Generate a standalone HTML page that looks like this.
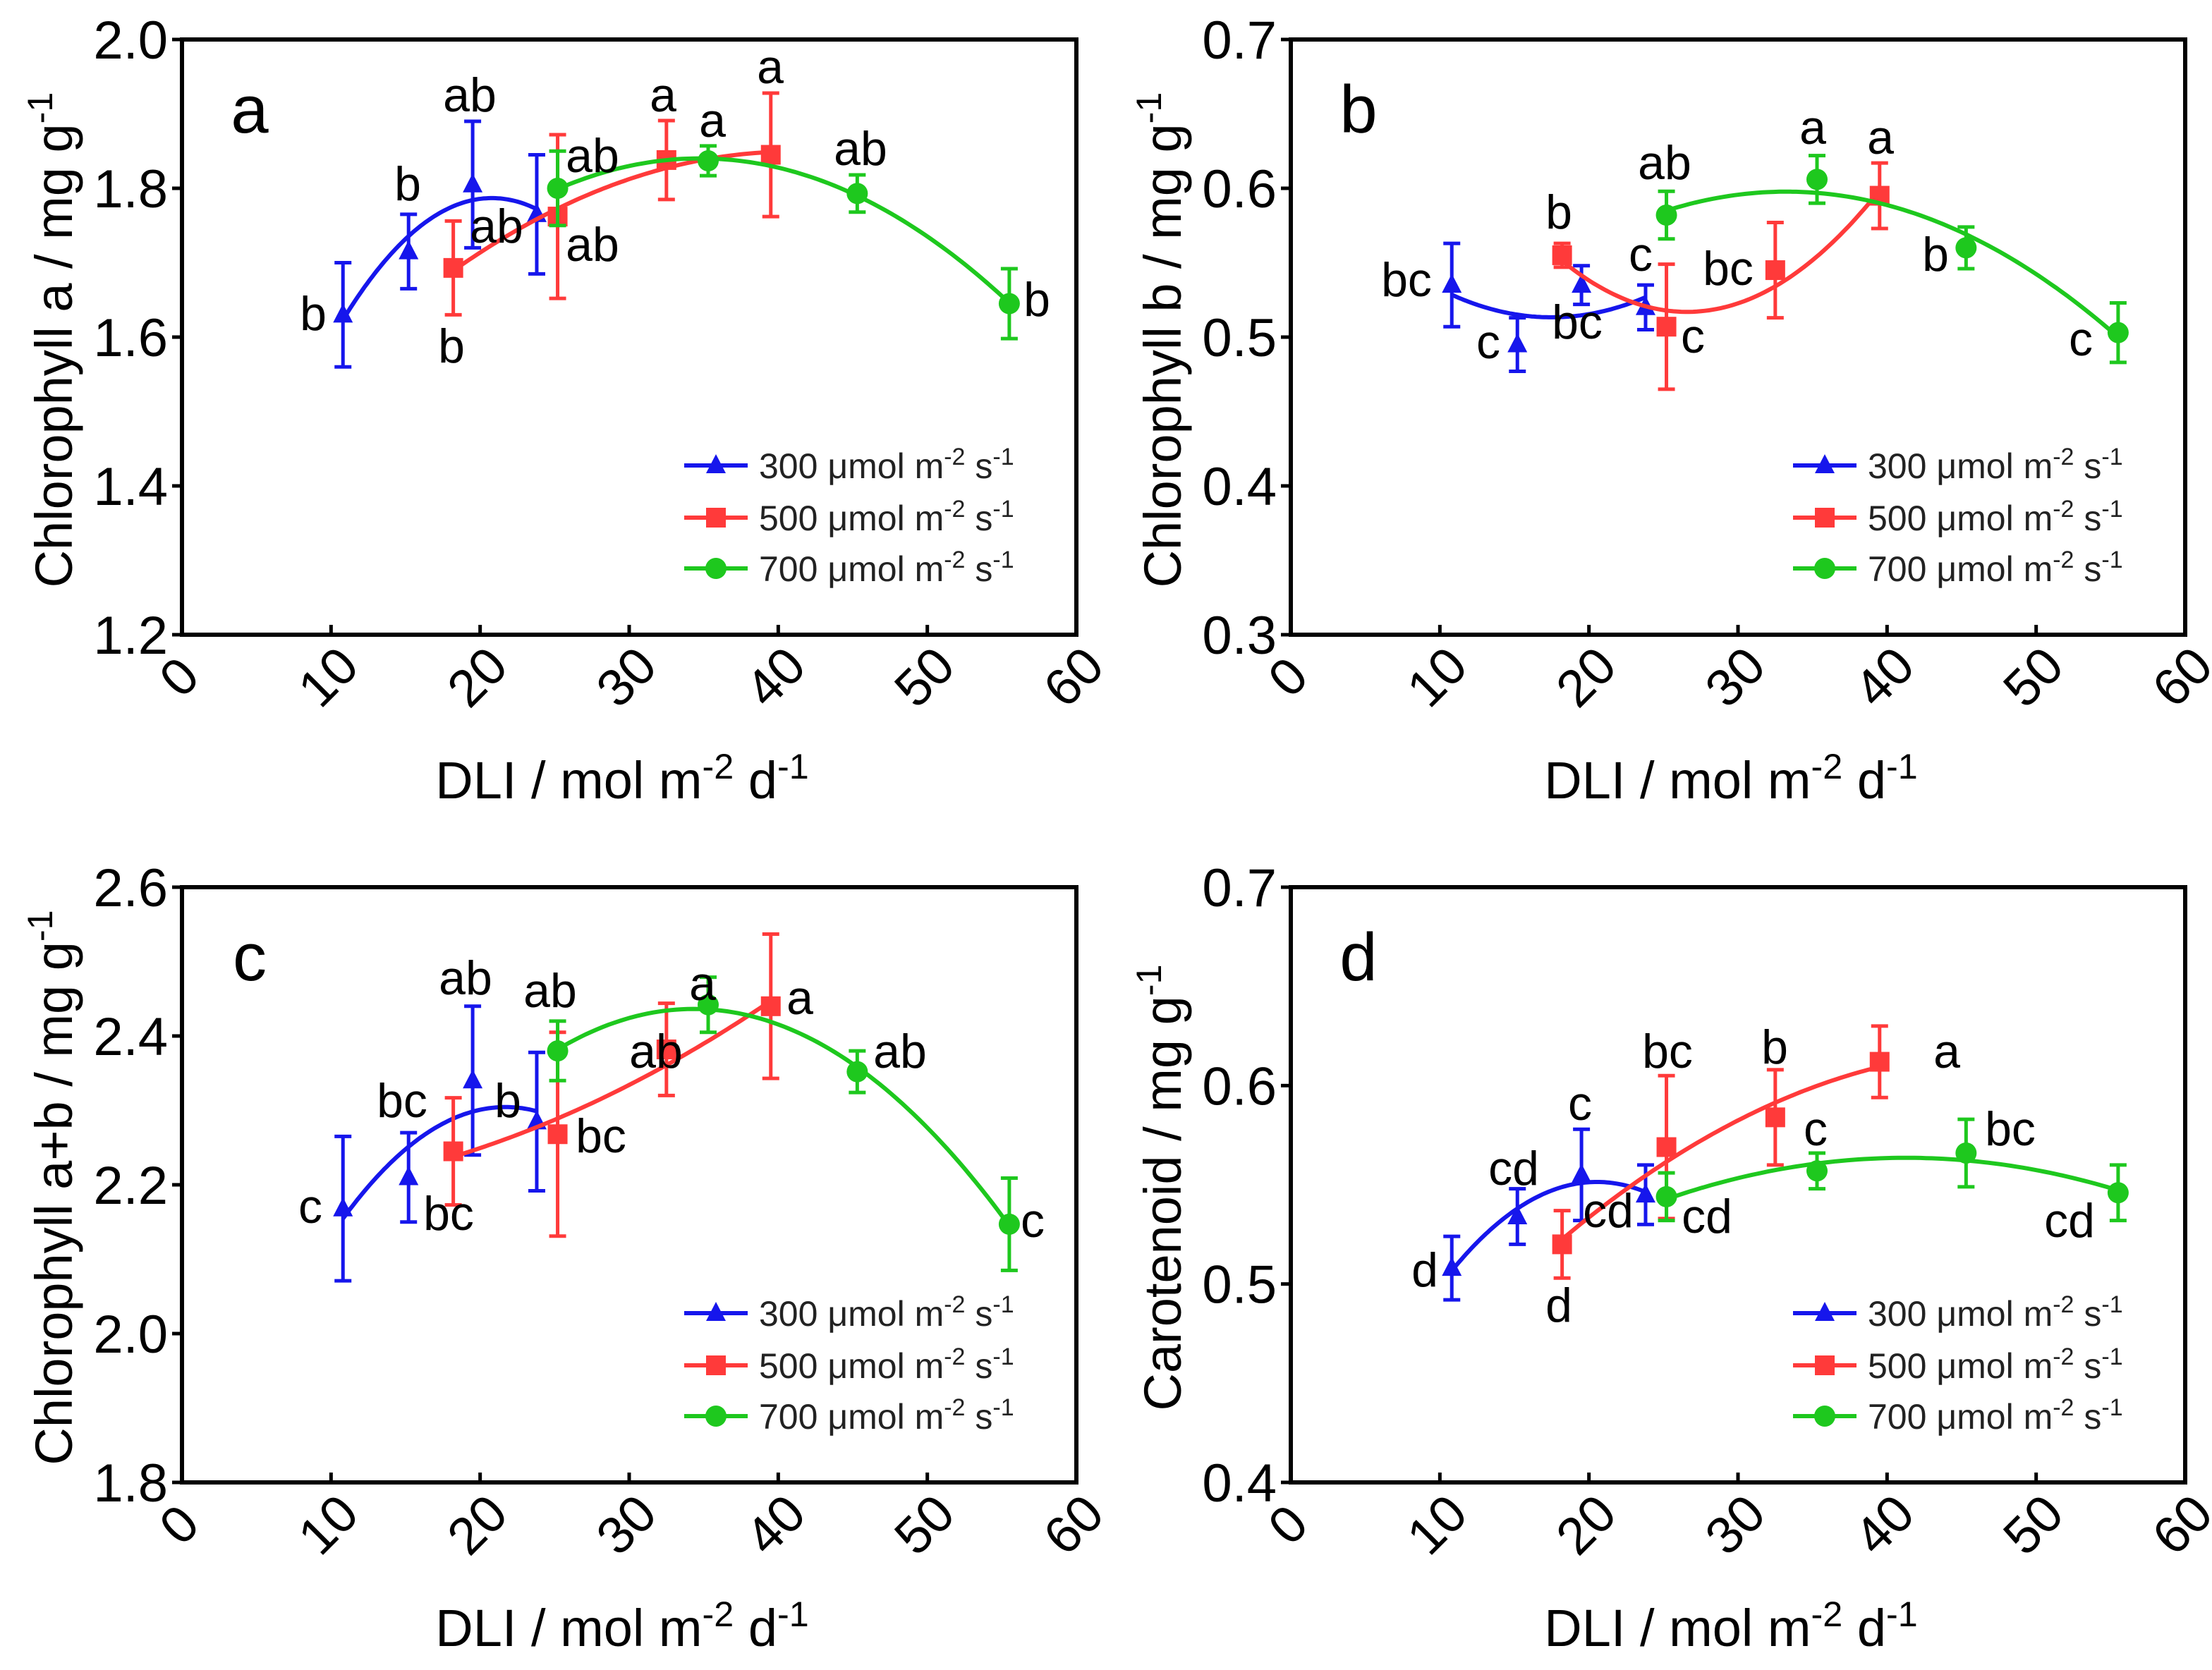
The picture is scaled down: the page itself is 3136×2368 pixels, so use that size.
<!DOCTYPE html>
<html><head><meta charset="utf-8">
<style>
html,body{margin:0;padding:0;background:#fff;}
svg{display:block;font-family:"Liberation Sans",Arial,sans-serif;}
</style></head>
<body>
<svg id="chart" width="3136" height="2368" viewBox="0 0 3136 2368" xmlns="http://www.w3.org/2000/svg"></svg>
<script>
// ---- data ----
const seriesNames = ["300 μmol", "500 μmol", "700 μmol"];
const xBlue = [10.8, 15.2, 19.5, 23.8];
const xRed = [18.2, 25.2, 32.5, 39.5];
const xGreen = [25.2, 35.3, 45.3, 55.5];
// panel a: chlorophyll a
const aBlue = [1.63, 1.715, 1.805, 1.765];
const aBlueErr = [0.07, 0.05, 0.085, 0.08];
const aRed = [1.693, 1.762, 1.838, 1.845];
const aRedErr = [0.063, 0.11, 0.053, 0.083];
const aGreen = [1.80, 1.837, 1.793, 1.645];
const aGreenErr = [0.05, 0.02, 0.025, 0.047];
// panel b: chlorophyll b
const bBlue = [0.535, 0.495, 0.535, 0.52];
const bBlueErr = [0.028, 0.018, 0.013, 0.015];
const bRed = [0.555, 0.507, 0.545, 0.595];
const bRedErr = [0.008, 0.042, 0.032, 0.022];
const bGreen = [0.582, 0.606, 0.56, 0.503];
const bGreenErr = [0.016, 0.016, 0.014, 0.02];
// panel c: chlorophyll a+b
const cBlue = [2.168, 2.21, 2.34, 2.285];
const cBlueErr = [0.097, 0.06, 0.1, 0.093];
const cRed = [2.245, 2.268, 2.382, 2.44];
const cRedErr = [0.072, 0.137, 0.062, 0.097];
const cGreen = [2.38, 2.442, 2.352, 2.147];
const cGreenErr = [0.04, 0.037, 0.028, 0.062];
// panel d: carotenoid
const dBlue = [0.508, 0.534, 0.555, 0.545];
const dBlueErr = [0.016, 0.014, 0.023, 0.015];
const dRed = [0.52, 0.569, 0.584, 0.612];
const dRedErr = [0.017, 0.036, 0.024, 0.018];
const dGreen = [0.544, 0.557, 0.566, 0.546];
const dGreenErr = [0.012, 0.009, 0.017, 0.014];
const xTicks = [0, 10, 20, 30, 40, 50, 60];
const aTicks = ["1.2", "1.4", "1.6", "1.8", "2.0"];
const bTicks = ["0.3", "0.4", "0.5", "0.6", "0.7"];
const cTicks = ["1.8", "2.0", "2.2", "2.4", "2.6"];
const dTicks = ["0.4", "0.5", "0.6", "0.7"];
// significance letters: [text, x (display units), y (display units)]
const aLetters = [["b",222,222],["b",289,130],["ab",333,67],["ab",352,160],["b",320,245],["ab",420,173],["ab",420,110],["a",470,67],["a",505,85],["a",546,47],["ab",610,105],["b",735,212]];
const bLetters = [["bc",997,198],["c",1055,242],["bc",1118,228],["b",1105,150],["c",1163,180],["ab",1180,115],["c",1200,238],["bc",1225,190],["a",1285,90],["a",1333,97],["b",1372,180],["c",1475,240]];
const cLetters = [["c",220,855],["bc",285,780],["ab",330,693],["bc",318,860],["b",360,780],["ab",390,702],["bc",426,805],["ab",465,745],["a",498,697],["a",567,707],["ab",638,745],["c",732,865]];
const dLetters = [["d",1010,900],["cd",1073,828],["c",1120,782],["d",1105,925],["cd",1140,858],["bc",1182,745],["cd",1210,862],["b",1258,742],["c",1287,800],["a",1380,745],["bc",1425,800],["cd",1467,865]];

const NS = "http://www.w3.org/2000/svg";
const svg = document.getElementById("chart");
const colors = ["#1616ec", "#ff3a3a", "#1ec81e"];
function mk(tag, attrs, parent) {
  const e = document.createElementNS(NS, tag);
  for (const k in attrs) e.setAttribute(k, attrs[k]);
  (parent || svg).appendChild(e);
  return e;
}
function quadFit(xs, ys) {
  let S = [0,0,0,0,0], T = [0,0,0];
  for (let i = 0; i < xs.length; i++) {
    let p = 1;
    for (let k = 0; k < 5; k++) { S[k] += p; if (k < 3) T[k] += p * ys[i]; p *= xs[i]; }
  }
  const M = [[S[0],S[1],S[2],T[0]],[S[1],S[2],S[3],T[1]],[S[2],S[3],S[4],T[2]]];
  for (let i = 0; i < 3; i++) {
    for (let j = i + 1; j < 3; j++) {
      const f = M[j][i] / M[i][i];
      for (let k = i; k < 4; k++) M[j][k] -= f * M[i][k];
    }
  }
  const c = [0,0,0];
  for (let i = 2; i >= 0; i--) {
    let s = M[i][3];
    for (let k = i + 1; k < 3; k++) s -= M[i][k] * c[k];
    c[i] = s / M[i][i];
  }
  return x => c[0] + c[1] * x + c[2] * x * x;
}
function drawMarker(g, type, cx, cy, color) {
  let m;
  if (type === 0) m = mk("polygon", {points: `${cx},${cy-16} ${cx-14},${cy+11} ${cx+14},${cy+11}`, fill: color}, g);
  else if (type === 1) m = mk("rect", {x: cx-14, y: cy-14, width: 28, height: 28, fill: color}, g);
  else m = mk("circle", {cx: cx, cy: cy, r: 15, fill: color}, g);
  
  
}
function superLabel(parent, x, y, size, parts, anchor, extra) {
  const t = mk("text", Object.assign({x: x, y: y, "font-size": size, "text-anchor": anchor || "start", fill: "#000"}, extra || {}), parent);
  parts.forEach(p => {
    const ts = mk("tspan", {}, t);
    if (p[1] === "sup") { ts.setAttribute("dy", -size * 0.38); ts.setAttribute("font-size", size * 0.68); }
    else if (p[1] === "down") { ts.setAttribute("dy", size * 0.38); }
    ts.textContent = p[0];
  });
  return t;
}
const panels = [
  {id:"a", left:258, top:56, ymin:1.2, ymax:2.0, ticks:aTicks, ys:[aBlue,aRed,aGreen], es:[aBlueErr,aRedErr,aGreenErr], letters:aLetters, ytitle:["Chlorophyll a / mg g","-1"]},
  {id:"b", left:1830, top:56, ymin:0.3, ymax:0.7, ticks:bTicks, ys:[bBlue,bRed,bGreen], es:[bBlueErr,bRedErr,bGreenErr], letters:bLetters, ytitle:["Chlorophyll b / mg g","-1"]},
  {id:"c", left:258, top:1258, ymin:1.8, ymax:2.6, ticks:cTicks, ys:[cBlue,cRed,cGreen], es:[cBlueErr,cRedErr,cGreenErr], letters:cLetters, ytitle:["Chlorophyll a+b / mg g","-1"]},
  {id:"d", left:1830, top:1258, ymin:0.4, ymax:0.7, ticks:dTicks, ys:[dBlue,dRed,dGreen], es:[dBlueErr,dRedErr,dGreenErr], letters:dLetters, ytitle:["Carotenoid / mg g","-1"]}
];
const W = 1268, H = 844;
const xsAll = [xBlue, xRed, xGreen];
panels.forEach(p => {
  const g = mk("g", {});
  
  
  const X = v => p.left + v / 60 * W;
  const Y = v => p.top + H - (v - p.ymin) / (p.ymax - p.ymin) * H;
  const bottom = p.top + H;
  const fr = mk("rect", {x: p.left, y: p.top, width: W, height: H, fill: "none", stroke: "#000", "stroke-width": 6}, g);
  
  
  xTicks.forEach(v => {
    const tk = mk("line", {x1: X(v), x2: X(v), y1: bottom, y2: bottom - 14, stroke: "#000", "stroke-width": 5}, g);
    
    
    const tl = mk("text", {x: 0, y: 0, "font-size": 74, "text-anchor": "middle", "dominant-baseline": "middle", transform: `translate(${X(v)},${bottom + 64}) rotate(-45)`}, g);
    tl.textContent = String(v);
    
    
  });
  p.ticks.forEach(s => {
    const v = parseFloat(s);
    const tk = mk("line", {x1: p.left - 14, x2: p.left, y1: Y(v), y2: Y(v), stroke: "#000", "stroke-width": 5}, g);
    
    
    const tl = mk("text", {x: p.left - 20, y: Y(v) + 27, "font-size": 76, "text-anchor": "end"}, g);
    tl.textContent = s;
    
    
  });
  const xt = superLabel(g, p.left + W / 2 - 10, bottom + 232, 74, [["DLI / mol m"],["-2","sup"],[" d","down"],["-1","sup"]], "middle");
  
  
  const yt = superLabel(g, 0, 0, 74, [[p.ytitle[0]],[p.ytitle[1],"sup"]], "middle", {transform: `translate(${p.left - 156},${p.top + H / 2 + 4}) rotate(-90)`});
  
  
  const pl = mk("text", {x: p.left + 96, y: p.top + 132, "font-size": 96, "text-anchor": "middle"}, g);
  pl.textContent = p.id;
  
  
  [0, 1, 2].forEach(si => {
    const xs = xsAll[si], ys = p.ys[si], es = p.es[si], col = colors[si];
    const sg = mk("g", {}, g);
    
    
    const f = quadFit(xs, ys);
    let d = "";
    const x0 = Math.min(...xs), x1 = Math.max(...xs);
    for (let i = 0; i <= 80; i++) {
      const xv = x0 + (x1 - x0) * i / 80;
      d += (i ? "L" : "M") + X(xv).toFixed(1) + "," + Y(f(xv)).toFixed(1);
    }
    const cv = mk("path", {d: d, fill: "none", stroke: col, "stroke-width": 6}, sg);
    
    
    xs.forEach((xv, i) => {
      const cx = X(xv), yTop = Y(ys[i] + es[i]), yBot = Y(ys[i] - es[i]);
      const eb = mk("path", {d: `M${cx},${yTop}L${cx},${yBot}M${cx-12},${yTop}L${cx+12},${yTop}M${cx-12},${yBot}L${cx+12},${yBot}`, stroke: col, "stroke-width": 5, fill: "none"}, sg);
      
      
      drawMarker(sg, si, cx, Y(ys[i]), col);
    });
  });
  p.letters.forEach(l => {
    const t = mk("text", {x: l[1] * 2, y: l[2] * 2 + 24, "font-size": 68, "text-anchor": "middle"}, g);
    t.textContent = l[0];
    
    
  });
  const lg = mk("g", {}, g);
  
  
  const rows = [604, 678, 750];
  ["300", "500", "700"].forEach((lab, si) => {
    const ry = p.top + rows[si];
    const e = mk("g", {}, lg);
    
    
    mk("line", {x1: p.left + 712, x2: p.left + 802, y1: ry, y2: ry, stroke: colors[si], "stroke-width": 6}, e);
    drawMarker(e, si, p.left + 757, ry, colors[si]);
    superLabel(e, p.left + 818, ry + 18, 50, [[lab + " μmol m"],["-2","sup"],[" s","down"],["-1","sup"]], "start", {fill: "#222"});
  });
});
</script>
</body></html>
